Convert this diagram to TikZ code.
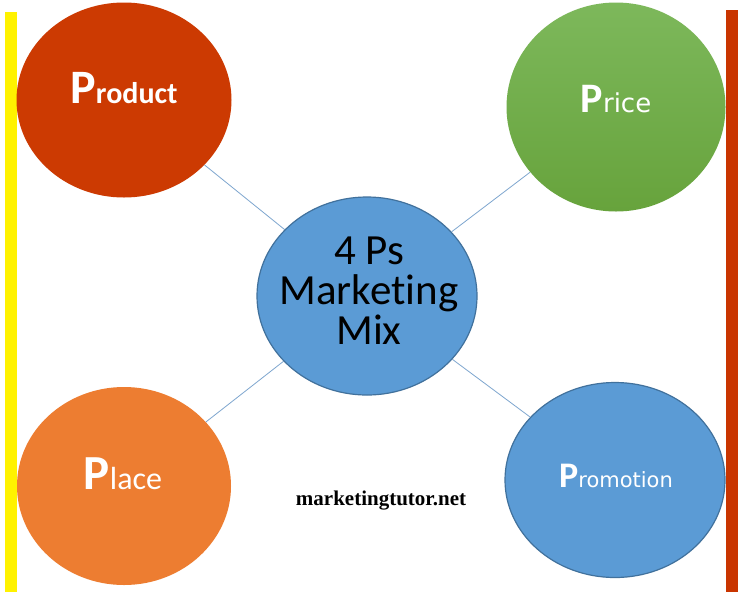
\documentclass[tikz,border=0pt]{standalone}
\usepackage{fontspec}
\usetikzlibrary{shapes.geometric,backgrounds}
\newfontfamily\calfont[Ligatures=NoCommon]{Carlito}
\newfontfamily\dvfont{DejaVu Sans}
\newfontfamily\serfont{Liberation Serif}
\definecolor{prodred}{HTML}{CC3A02}
\definecolor{barred}{HTML}{C93500}
\definecolor{pricegreenT}{HTML}{7DB85B}
\definecolor{pricegreenB}{HTML}{67A33C}
\definecolor{placeorange}{HTML}{ED7D31}
\definecolor{pblue}{HTML}{5B9BD5}
\definecolor{pbluedark}{HTML}{41719C}
\definecolor{linkblue}{HTML}{7EA6CF}
\tikzset{
  pcircle/.style={ellipse, inner sep=0pt},
  link/.style={draw=linkblue, line width=0.8pt},
  ptext/.style={anchor=base, text=white, inner sep=0pt},
  ctext/.style={anchor=base, inner sep=0pt, font=\calfont\fontsize{43}{43}\selectfont},
}
\begin{document}
\begin{tikzpicture}[x=1pt,y=-1pt]
\useasboundingbox (0,0) rectangle (743,598);
% side bars
\fill[yellow] (5,12) rectangle (17,592);
\fill[barred] (726,10) rectangle (738,592);
% circles
\node[pcircle, fill=prodred, minimum width=215pt, minimum height=195pt] (product) at (124,100) {};
\node[pcircle, top color=pricegreenT, bottom color=pricegreenB, minimum width=219pt, minimum height=209pt] (price) at (616,107) {};
\node[pcircle, fill=pblue, draw=pbluedark, line width=1.2pt, minimum width=220pt, minimum height=198pt] (center) at (367,296) {};
\node[pcircle, fill=placeorange, minimum width=214pt, minimum height=198pt] (place) at (124,486) {};
\node[pcircle, fill=pblue, draw=pbluedark, line width=1.2pt, minimum width=220pt, minimum height=195pt] (promo) at (615,480) {};
% connectors
\begin{scope}[on background layer]
\fill[white] (0,0) rectangle (743,598);
\draw[link] (center) -- (product);
\draw[link] (center) -- (price);
\draw[link] (center) -- (place);
\draw[link] (center) -- (promo);
\end{scope}
% labels
\node[ptext] (tproduct) at (124,103) {\calfont\bfseries\fontsize{48}{48}\selectfont P\fontsize{30}{30}\selectfont roduct};
\node[ptext] (tprice) at (616,112) {\calfont\bfseries\fontsize{42}{42}\selectfont P\dvfont\mdseries\fontsize{26}{26}\selectfont rice};
\node[ptext] (tplace) at (123,489) {\calfont\bfseries\fontsize{49}{49}\selectfont P\mdseries\fontsize{32}{32}\selectfont lace};
\node[ptext] (tpromo) at (616,487) {\calfont\bfseries\fontsize{36}{36}\selectfont P\dvfont\mdseries\fontsize{21}{21}\selectfont romotion};
\node[ctext] (t1) at (369,264) {4 Ps};
\node[ctext] (t2) at (369,304) {Marketing};
\node[ctext] (t3) at (369,344) {Mix};
\node[anchor=base, inner sep=0pt] (site) at (381,505) {\serfont\bfseries\fontsize{21}{21}\selectfont marketingtutor.net};
\end{tikzpicture}
\end{document}
